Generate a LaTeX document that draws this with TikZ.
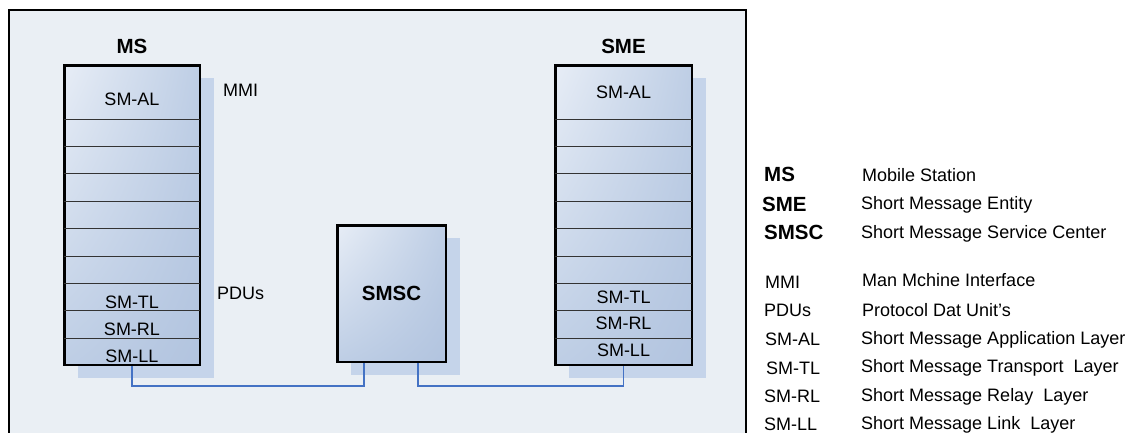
\documentclass[tikz,border=0pt]{standalone}
\usepackage{fontspec}
\setmainfont{Liberation Sans}
\usetikzlibrary{positioning, calc, shadows, shadings}
\definecolor{panelgray}{HTML}{EAEFF4}
\definecolor{shadowblue}{HTML}{C5D4EA}
\definecolor{linkblue}{HTML}{4472C4}
\definecolor{stackhi}{HTML}{E7EDF6}
\definecolor{stackmid}{HTML}{BECEE5}
\definecolor{stacklo}{HTML}{B2C4DF}
\tikzset{
  x=1pt, y=-1pt,
  every node/.style={inner sep=0pt, font=\fontsize{18}{20}\selectfont},
  titlefont/.style={font=\fontsize{20.5}{22}\selectfont\bfseries},
  entity/.style={draw, line width=2.5pt,
    upper left=stackhi, upper right=stackmid,
    lower left=stackmid, lower right=stacklo,
    drop shadow={shadow xshift=14pt, shadow yshift=-13pt, fill=shadowblue, opacity=1}},
  rowline/.style={black!80, line width=0.9pt},
  buslink/.style={linkblue, line width=1.8pt},
  lbl/.style={anchor=base},
  legendkey/.style={anchor=base west},
}

\begin{document}
\begin{tikzpicture}
  \useasboundingbox (0,0) rectangle (1145,432);
  \clip (0,0) rectangle (1145,432);

  % panel
  \draw[line width=1.5pt, fill=panelgray] (9,10) rectangle (746,450);

  % entities
  \node[entity, minimum width=135.5pt, minimum height=299.5pt] (ms) at (132,215) {};
  \node[entity, minimum width=136.5pt, minimum height=299.5pt] (sme) at (623.5,215) {};
  \node[entity, titlefont, minimum width=108.5pt, minimum height=136.5pt] (smsc) at (391.5,293.5) {SMSC};
  \node[titlefont, above=10.5pt of ms] (msname) {MS};
  \node[titlefont, above=10.5pt of sme] (smename) {SME};

  % layer rows
  \foreach \s in {ms, sme}
    \foreach \k in {0,...,8}
      \draw[rowline] ($(\s.north west)+(1,{55+27.4*\k})$) -- ($(\s.north east)+(-1,{55+27.4*\k})$);

  % layer names
  \node[lbl] (msal) at (132,105) {SM-AL};
  \node[lbl] (mstl) at (132,308) {SM-TL};
  \node[lbl] (msrl) at (132,335) {SM-RL};
  \node[lbl] (msll) at (132,362) {SM-LL};
  \node[lbl] (smeal) at (623.5,98) {SM-AL};
  \node[lbl] (smetl) at (623.5,303) {SM-TL};
  \node[lbl] (smerl) at (623.5,329.5) {SM-RL};
  \node[lbl] (smell) at (623.5,356) {SM-LL};
  \node[legendkey] (mmi) at (223,96) {MMI};
  \node[legendkey] (pdus) at (217,299) {PDUs};

  % links
  \coordinate (smscin) at ($(smsc.south)+(-27.5,0)$);
  \coordinate (smscout) at ($(smsc.south)+(26.5,0)$);
  \draw[buslink] (ms.south) -- ++(0,20) -| (smscin);
  \draw[buslink] (smscout) -- ++(0,23) -| (sme.south);

  % legend
  \node[legendkey, titlefont] (kms) at (764,181) {MS};
  \node[legendkey, titlefont] (ksme) at (762,211) {SME};
  \node[legendkey, titlefont] (ksmsc) at (764,239) {SMSC};
  \node[legendkey] (dms) at (862,181) {Mobile Station};
  \node[legendkey] (dsme) at (861,209) {Short Message Entity};
  \node[legendkey] (dsmsc) at (861,238) {Short Message Service Center};

  \node[legendkey] (kmmi) at (765,288) {MMI};
  \node[legendkey] (kpdu) at (764,316) {PDUs};
  \node[legendkey] (kal) at (765,345) {SM-AL};
  \node[legendkey] (ktl) at (766,374) {SM-TL};
  \node[legendkey] (krl) at (764,402) {SM-RL};
  \node[legendkey] (kll) at (764,430) {SM-LL};
  \node[legendkey] (dmmi) at (862,286) {Man Mchine Interface};
  \node[legendkey] (dpdu) at (862,316) {Protocol Dat Unit's};
  \node[legendkey] (dal) at (861,344) {Short Message Application Layer};
  \node[legendkey] (dtl) at (861,372) {Short Message Transport\ \ Layer};
  \node[legendkey] (drl) at (861,401) {Short Message Relay\ \ Layer};
  \node[legendkey] (dll) at (861,429) {Short Message Link\ \ Layer};
\end{tikzpicture}
\end{document}
